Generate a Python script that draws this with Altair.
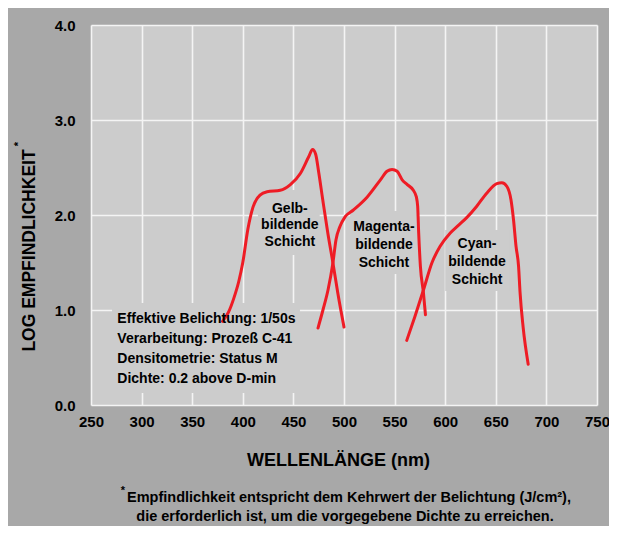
import altair as alt
import pandas as pd

# ---------------- data ----------------
gelb_nm = [380, 386, 391, 396, 400, 405, 410, 417, 424, 437, 447, 457, 465, 469, 472, 475, 479, 484, 489, 494, 500]
gelb_y = [0.88, 0.98, 1.12, 1.30, 1.50, 1.85, 2.08, 2.21, 2.245, 2.26, 2.32, 2.44, 2.61, 2.69, 2.64, 2.45, 2.16, 1.81, 1.50, 1.17, 0.82]

magenta_nm = [474.3, 479.2, 484.2, 489.1, 492.1, 496, 501, 509, 523, 536, 542.5, 547.5, 552.5, 557.5, 562.5, 568.5, 571.5, 572.8, 573.8, 575.5, 578.5, 580.5]
magenta_y = [0.81, 1.00, 1.21, 1.50, 1.74, 1.88, 1.98, 2.05, 2.19, 2.37, 2.46, 2.48, 2.46, 2.37, 2.32, 2.26, 2.19, 2.09, 1.81, 1.46, 1.18, 0.95]

cyan_nm = [562, 570, 578.5, 587, 595, 605, 613, 621, 631, 641, 651, 656, 661, 665, 667.5, 670, 672.5, 674, 677, 682]
cyan_y = [0.68, 0.93, 1.21, 1.50, 1.67, 1.81, 1.89, 1.97, 2.09, 2.23, 2.33, 2.34, 2.30, 2.16, 1.95, 1.67, 1.46, 1.18, 0.82, 0.43]

x_ticks = [250, 300, 350, 400, 450, 500, 550, 600, 650, 700, 750]
y_ticks = [0, 1, 2, 3, 4]

layer_labels = ["Gelb-", "bildende", "Schicht",
                "Magenta-", "bildende", "Schicht",
                "Cyan-", "bildende", "Schicht"]
layer_label_nm = [446.5, 446.5, 446.5, 539.5, 539.5, 539.5, 631.5, 631.5, 631.5]
layer_label_y = [2.024, 1.849, 1.674, 1.832, 1.642, 1.453, 1.653, 1.463, 1.274]

info_lines = ["Effektive Belichtung: 1/50s", "Verarbeitung: Prozeß C-41",
              "Densitometrie: Status M", "Dichte: 0.2 above D-min"]
info_nm = [276, 276, 276, 276]
info_y = [0.866, 0.649, 0.439, 0.228]

# label background boxes (hide grid behind the annotations)
box_nm1 = [270.8, 415, 506, 600]
box_nm2 = [456.5, 476, 573, 664]
box_y1 = [0.126, 1.579, 1.379, 1.2]
box_y2 = [1.074, 2.263, 2.042, 1.842]

footnote_1 = "Empfindlichkeit entspricht dem Kehrwert der Belichtung (J/cm²),"
footnote_2 = "die erforderlich ist, um die vorgegebene Dichte zu erreichen."

# ---------------- style ----------------
FONT = "Liberation Sans"
RED = "#ee1c25"
PLOT_BG = "#cccccc"
FRAME_BG = "#a8a8a8"

curves = pd.DataFrame(
    [{"nm": n, "v": v, "layer": "Gelb"} for n, v in zip(gelb_nm, gelb_y)]
    + [{"nm": n, "v": v, "layer": "Magenta"} for n, v in zip(magenta_nm, magenta_y)]
    + [{"nm": n, "v": v, "layer": "Cyan"} for n, v in zip(cyan_nm, cyan_y)]
)
labels_df = pd.DataFrame({"nm": layer_label_nm, "v": layer_label_y, "t": layer_labels})
info_df = pd.DataFrame({"nm": info_nm, "v": info_y, "t": info_lines})
box_df = pd.DataFrame({"x1": box_nm1, "x2": box_nm2, "y1": box_y1, "y2": box_y2})

xscale = alt.Scale(domain=[250, 750], nice=False, zero=False)
yscale = alt.Scale(domain=[0, 4], nice=False)

x_axis = alt.Axis(
    values=x_ticks, title="WELLENLÄNGE (nm)", labelFlush=False, labelPadding=9,
    titleX=247, titleY=60, titleAlign="center", titleBaseline="alphabetic",
    titleFontSize=18,
)
y_axis = alt.Axis(
    values=y_ticks, format=".1f", title="LOG EMPFINDLICHKEIT", labelPadding=16,
    labelFlush=False,
    titleX=-57, titleY=225, titleAlign="center", titleBaseline="alphabetic",
    titleAngle=270, titleFontSize=17.5,
)

boxes = alt.Chart(box_df).mark_rect(color=PLOT_BG).encode(
    x=alt.X("x1:Q", scale=xscale, axis=x_axis),
    x2="x2:Q",
    y=alt.Y("y1:Q", scale=yscale, axis=y_axis),
    y2="y2:Q",
)

lines = alt.Chart(curves).mark_line(
    color=RED, strokeWidth=3, interpolate="monotone", strokeCap="round"
).encode(
    x=alt.X("nm:Q", scale=xscale),
    y=alt.Y("v:Q", scale=yscale),
    detail="layer:N",
)

layer_text = alt.Chart(labels_df).mark_text(
    font=FONT, fontSize=14, fontWeight="bold", color="black",
    align="center", baseline="alphabetic",
).encode(x=alt.X("nm:Q", scale=xscale), y=alt.Y("v:Q", scale=yscale), text="t:N")

info_text = alt.Chart(info_df).mark_text(
    font=FONT, fontSize=14, fontWeight="bold", color="black",
    align="left", baseline="alphabetic",
).encode(x=alt.X("nm:Q", scale=xscale), y=alt.Y("v:Q", scale=yscale), text="t:N")

foot_df = pd.DataFrame({"t": [footnote_1, footnote_2], "px": [258, 254], "py": [477, 496]})
foot = alt.Chart(foot_df).mark_text(
    font=FONT, fontSize=14.5, fontWeight="bold", color="black",
    align="center", baseline="alphabetic",
).encode(
    x=alt.X("px:Q", scale=None), y=alt.Y("py:Q", scale=None), text="t:N"
)

star_df = pd.DataFrame({"t": ["*", "*"], "px": [32, -72], "py": [466, 119], "ang": [0, 270]})
stars = alt.Chart(star_df).mark_text(
    font=FONT, fontSize=11, fontWeight="bold", color="black",
    align="center", baseline="middle",
).encode(
    x=alt.X("px:Q", scale=None), y=alt.Y("py:Q", scale=None), text="t:N",
    angle=alt.Angle("ang:Q", scale=None),
)

chart = alt.layer(boxes, lines, layer_text, info_text, foot, stars).properties(
    width=506, height=380,
    autosize=alt.AutoSizeParams(type="none"),
    padding={"left": 83, "top": 17, "right": 12, "bottom": 121},
    background=FRAME_BG,
).configure_view(
    fill=PLOT_BG, stroke="transparent",
).configure_axis(
    domain=False, ticks=False, grid=True, gridColor="#f4f4f4", gridWidth=1.6,
    gridOpacity=1,
    labelFont=FONT, labelFontSize=15, labelFontWeight="bold", labelColor="black",
    titleFont=FONT, titleFontWeight="bold", titleColor="black",
)

chart.save("out.html", embed_options={"renderer": "svg", "actions": False})
